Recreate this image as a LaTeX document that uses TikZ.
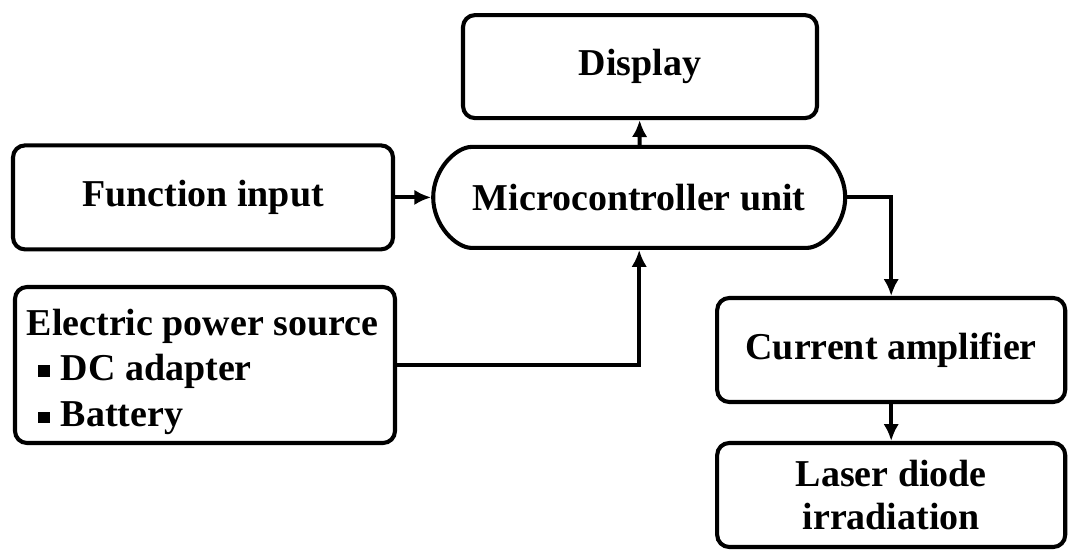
\documentclass[tikz,border=0pt]{standalone}
\usepackage{fontspec}
\setmainfont{Liberation Serif}
\usetikzlibrary{arrows.meta,shapes.misc}

\begin{document}
\begin{tikzpicture}[
  box/.style={draw, line width=2.9pt, rounded corners=0.3cm, align=center,
    inner sep=0pt, font=\fontsize{27}{32}\selectfont\bfseries},
  pill/.style={box, rounded rectangle},
  link/.style={line width=2.9pt, -{Latex[length=12pt,width=11pt]}}]
\newcommand{\sqbul}{\raisebox{0.22ex}{\rule{0.3em}{0.3em}}};
\useasboundingbox (0, 0) rectangle (26.7, 13.725);

% blocks
\node[box, minimum width=8.85cm, minimum height=2.575cm] (disp) at (16.0, 12.06) {Display};
\node[pill, minimum width=10.3cm, minimum height=2.525cm] (mcu) at (15.98, 8.79) {Microcontroller unit};
\node[box, minimum width=9.5cm, minimum height=2.6cm] (fin) at (5.075, 8.79) {Function input};
\node[box, minimum width=9.5cm, minimum height=3.9cm] (pwr) at (5.125, 4.6) {};
\node[box, anchor=west, align=left, draw=none, font=\fontsize{27}{33}\selectfont\bfseries] (pwrtxt) at (0.62, 4.42)
  {Electric power source\\[-1pt] \hspace{0.3em}\sqbul\hspace{0.3em}DC adapter\\ \hspace{0.3em}\sqbul\hspace{0.3em}Battery};
\node[box, minimum width=8.7cm, minimum height=2.6cm] (amp) at (22.28, 4.975) {Current amplifier};
\node[box, minimum width=8.7cm, minimum height=2.6cm, font=\fontsize{27}{31}\selectfont\bfseries] (ld) at (22.28, 1.35) {Laser diode\\irradiation};
%

% connectors
\draw[link] (fin) -- (mcu);
\draw[link] (mcu) -- (disp);
\draw[link] (pwr.east) -| (mcu.south);
\draw[link] (mcu.east) -| (amp.north);
\draw[link] (amp) -- (ld);
%
\end{tikzpicture}
\end{document}
